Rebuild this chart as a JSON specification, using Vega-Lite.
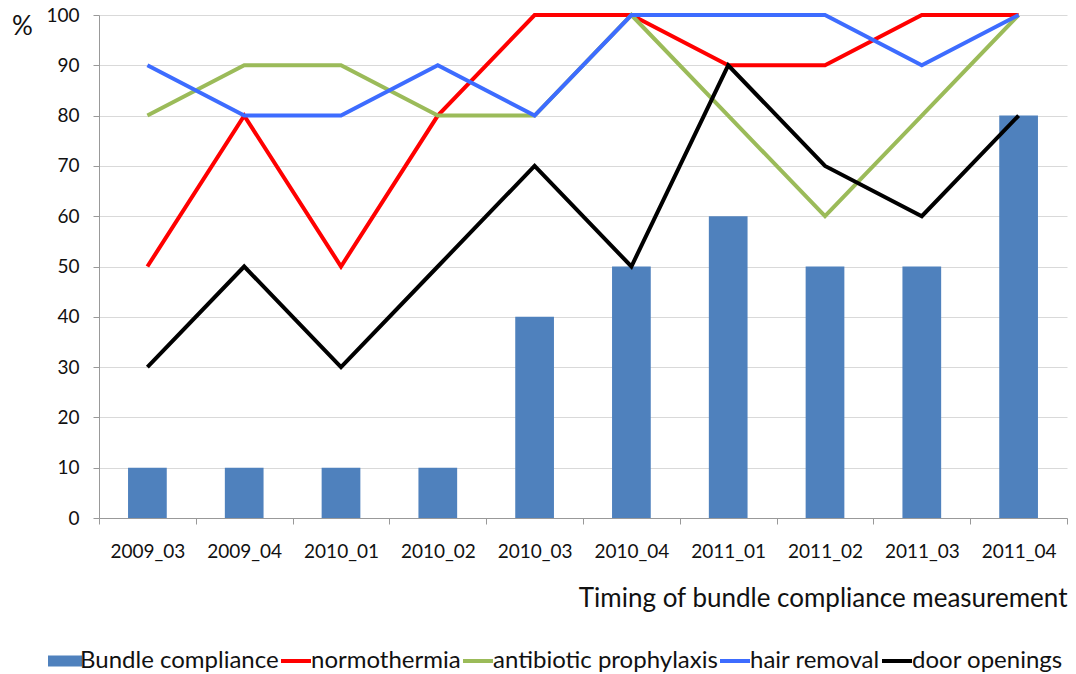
{
  "$schema": "https://vega.github.io/schema/vega-lite/v6.json",
  "width": 968,
  "height": 503,
  "autosize": {"type": "none"},
  "padding": {"left": 99, "top": 15, "right": 9, "bottom": 156},
  "background": "white",
  "config": {"view": {"stroke": null}, "font": "Lato"},
  "data": {
    "values": [
      {"period": "2009_03", "series": "Bundle compliance", "value": 10},
      {"period": "2009_04", "series": "Bundle compliance", "value": 10},
      {"period": "2010_01", "series": "Bundle compliance", "value": 10},
      {"period": "2010_02", "series": "Bundle compliance", "value": 10},
      {"period": "2010_03", "series": "Bundle compliance", "value": 40},
      {"period": "2010_04", "series": "Bundle compliance", "value": 50},
      {"period": "2011_01", "series": "Bundle compliance", "value": 60},
      {"period": "2011_02", "series": "Bundle compliance", "value": 50},
      {"period": "2011_03", "series": "Bundle compliance", "value": 50},
      {"period": "2011_04", "series": "Bundle compliance", "value": 80},
      {"period": "2009_03", "series": "normothermia", "value": 50},
      {"period": "2009_04", "series": "normothermia", "value": 80},
      {"period": "2010_01", "series": "normothermia", "value": 50},
      {"period": "2010_02", "series": "normothermia", "value": 80},
      {"period": "2010_03", "series": "normothermia", "value": 100},
      {"period": "2010_04", "series": "normothermia", "value": 100},
      {"period": "2011_01", "series": "normothermia", "value": 90},
      {"period": "2011_02", "series": "normothermia", "value": 90},
      {"period": "2011_03", "series": "normothermia", "value": 100},
      {"period": "2011_04", "series": "normothermia", "value": 100},
      {"period": "2009_03", "series": "antibiotic prophylaxis", "value": 80},
      {"period": "2009_04", "series": "antibiotic prophylaxis", "value": 90},
      {"period": "2010_01", "series": "antibiotic prophylaxis", "value": 90},
      {"period": "2010_02", "series": "antibiotic prophylaxis", "value": 80},
      {"period": "2010_03", "series": "antibiotic prophylaxis", "value": 80},
      {"period": "2010_04", "series": "antibiotic prophylaxis", "value": 100},
      {"period": "2011_01", "series": "antibiotic prophylaxis", "value": 80},
      {"period": "2011_02", "series": "antibiotic prophylaxis", "value": 60},
      {"period": "2011_03", "series": "antibiotic prophylaxis", "value": 80},
      {"period": "2011_04", "series": "antibiotic prophylaxis", "value": 100},
      {"period": "2009_03", "series": "hair removal", "value": 90},
      {"period": "2009_04", "series": "hair removal", "value": 80},
      {"period": "2010_01", "series": "hair removal", "value": 80},
      {"period": "2010_02", "series": "hair removal", "value": 90},
      {"period": "2010_03", "series": "hair removal", "value": 80},
      {"period": "2010_04", "series": "hair removal", "value": 100},
      {"period": "2011_01", "series": "hair removal", "value": 100},
      {"period": "2011_02", "series": "hair removal", "value": 100},
      {"period": "2011_03", "series": "hair removal", "value": 90},
      {"period": "2011_04", "series": "hair removal", "value": 100},
      {"period": "2009_03", "series": "door openings", "value": 30},
      {"period": "2009_04", "series": "door openings", "value": 50},
      {"period": "2010_01", "series": "door openings", "value": 30},
      {"period": "2010_02", "series": "door openings", "value": 50},
      {"period": "2010_03", "series": "door openings", "value": 70},
      {"period": "2010_04", "series": "door openings", "value": 50},
      {"period": "2011_01", "series": "door openings", "value": 90},
      {"period": "2011_02", "series": "door openings", "value": 70},
      {"period": "2011_03", "series": "door openings", "value": 60},
      {"period": "2011_04", "series": "door openings", "value": 80}
    ]
  },
  "encoding": {
    "x": {
      "field": "period",
      "type": "ordinal",
      "sort": null,
      "scale": {"paddingInner": 0, "paddingOuter": 0},
      "axis": {
        "title": "Timing of bundle compliance measurement",
        "titleFontSize": 26,
        "titleFontWeight": "normal",
        "titleColor": "#111111",
        "titleAlign": "right",
        "titleAnchor": "end",
        "titleX": 968,
        "titleY": 80,
        "titleBaseline": "middle",
        "labelAngle": 0,
        "labelFontSize": 19,
        "labelColor": "#111111",
        "labelPadding": 18,
        "tickBand": "extent",
        "tickSize": 6,
        "tickColor": "#999999",
        "domainColor": "#999999",
        "grid": false
      }
    },
    "y": {
      "field": "value",
      "type": "quantitative",
      "scale": {"domain": [0, 100], "nice": false},
      "axis": {
        "values": [0, 10, 20, 30, 40, 50, 60, 70, 80, 90, 100],
        "title": "%",
        "titleAngle": 0,
        "titleX": -77,
        "titleY": 11,
        "titleAlign": "center",
        "titleBaseline": "middle",
        "titleFontSize": 26,
        "titleFontWeight": "normal",
        "titleColor": "#111111",
        "labelFontSize": 19,
        "labelColor": "#111111",
        "labelPadding": 14,
        "tickSize": 6,
        "tickColor": "#999999",
        "domainColor": "#999999",
        "gridColor": "#d9d9d9",
        "gridWidth": 1.2
      }
    }
  },
  "layer": [
    {
      "transform": [{"filter": "datum.series === 'Bundle compliance'"}],
      "mark": {"type": "bar", "width": {"band": 0.4}},
      "encoding": {
        "color": {
          "field": "series",
          "type": "nominal",
          "scale": {
            "domain": ["Bundle compliance", "normothermia", "antibiotic prophylaxis", "hair removal", "door openings"],
            "range": ["#4F81BD", "#FF0000", "#9BBB59", "#3D6CFF", "#000000"]
          },
          "legend": {
            "orient": "none",
            "legendX": -51,
            "legendY": 629,
            "direction": "horizontal",
            "title": null,
            "labelFontSize": 24,
            "labelColor": "#111111",
            "labelLimit": 0,
            "labelOffset": -2,
            "columnPadding": -8,
            "symbolSize": 900,
            "symbolStrokeWidth": 4,
            "encode": {
              "symbols": {
                "update": {
                  "shape": {"signal": "datum.value === 'Bundle compliance' ? 'M-1,-0.23H1V0.23H-1Z' : 'stroke'"},
                  "fill": {"signal": "datum.value === 'Bundle compliance' ? '#4F81BD' : 'transparent'"},
                  "stroke": {"signal": "datum.value === 'Bundle compliance' ? 'transparent' : scale('color', datum.value)"},
                  "strokeWidth": {"value": 4},
                  "opacity": {"value": 1}
                }
              }
            }
          }
        }
      }
    },
    {
      "transform": [{"filter": "datum.series !== 'Bundle compliance'"}],
      "mark": {"type": "line", "strokeWidth": 4},
      "encoding": {
        "color": {"field": "series", "type": "nominal", "sort": null}
      }
    }
  ]
}
